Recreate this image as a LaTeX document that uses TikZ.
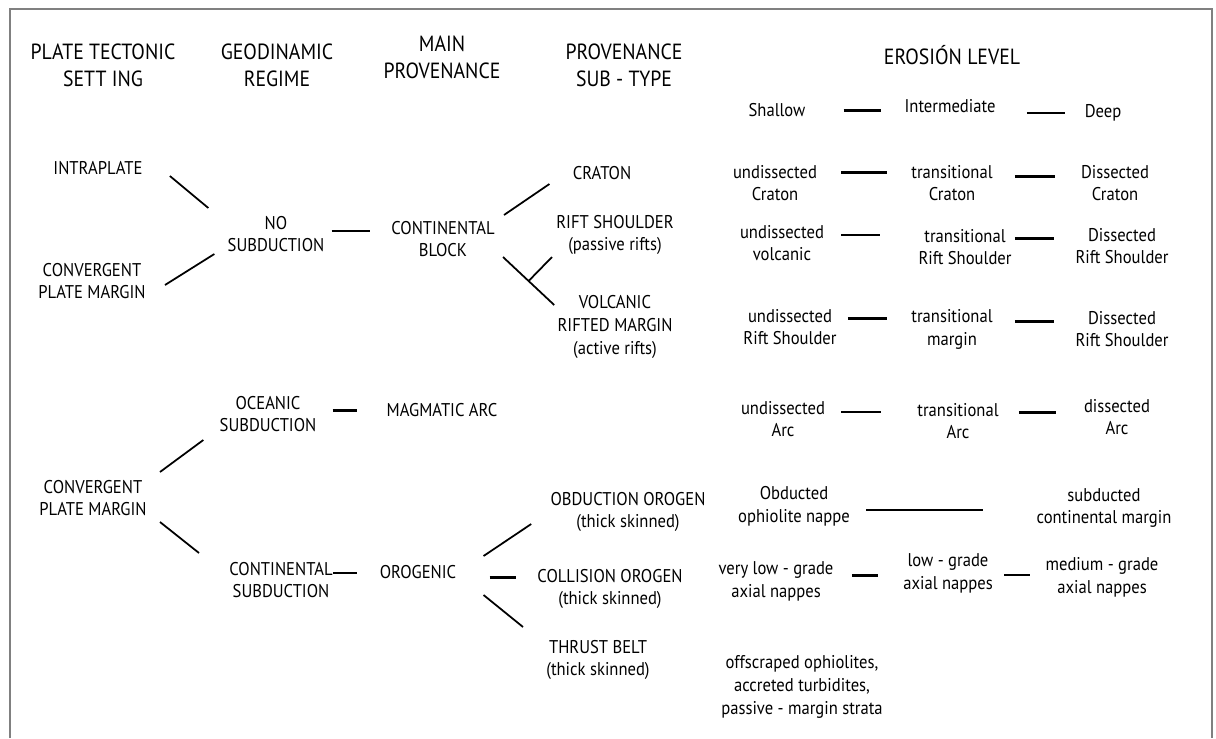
\documentclass[tikz,border=0pt]{standalone}
\usepackage{fontspec}
\setmainfont{PT Sans}[FakeStretch=0.9]

\begin{document}
\begin{tikzpicture}[x=0.02cm,y=-0.02cm,
						head/.style={align=center,inner sep=0pt,font=\fontsize{12.5}{15.3}\selectfont},
						txt/.style={align=center,inner sep=0pt,font=\fontsize{10.5}{13}\selectfont},
						link/.style={line width=1pt},
						heavy/.style={line width=1.7pt}]
		\useasboundingbox[fill=white] (0,0) rectangle (1216,738);
		\draw[gray,line width=1.2pt] (10,738) -- (10,9) -- (1212,9) -- (1212,738);

		% column titles
		\node[head]	(h1)	at (103,65)		{PLATE TECTONIC\\SETT ING};
		\node[head]	(h2)	at (277,65)		{GEODINAMIC\\REGIME};
		\node[head]	(h3)	at (442,57)		{MAIN\\PROVENANCE};
		\node[head]	(h4)	at (624,65)		{PROVENANCE\\SUB - TYPE};
		\node[head]	(h5)	at (952,55)		{EROSIÓN LEVEL};

		% no subduction branch
		\node[txt]	(intra)		at (98,168)		{INTRAPLATE};
		\node[txt]	(conva)		at (92,281)		{CONVERGENT\\PLATE MARGIN};
		\node[txt]	(nosub)		at (276,234)	{NO\\SUBDUCTION};
		\node[txt]	(contb)		at (443,239)	{CONTINENTAL\\BLOCK};
		\node[txt]	(craton)	at (602,173)	{CRATON};
		\node[txt]	(rift)		at (615,235)	{RIFT SHOULDER\\(passive rifts)};
		\node[txt]	(volc)		at (615,327)	{VOLCANIC\\RIFTED MARGIN\\(active rifts)};

		% convergent branch
		\node[txt]	(convb)		at (93,498)		{CONVERGENT\\PLATE MARGIN};
		\node[txt]	(oceanic)	at (268,414)	{OCEANIC\\SUBDUCTION};
		\node[txt]	(contsub)	at (281,580)	{CONTINENTAL\\SUBDUCTION};
		\node[txt]	(magarc)	at (442,410)	{MAGMATIC ARC};
		\node[txt]	(orog)		at (418,572)	{OROGENIC};
		\node[txt]	(obd)		at (628,512)	{OBDUCTION OROGEN\\(thick skinned)};
		\node[txt]	(col)		at (610,589)	{COLLISION OROGEN\\(thick skinned)};
		\node[txt]	(thr)		at (598,660)	{THRUST BELT\\(thick skinned)};

		% erosion level
		\node[txt]	(shallow)	at (777,110)	{Shallow};
		\node[txt]	(inter)		at (950,106)	{Intermediate};
		\node[txt]	(deep)		at (1103,113)	{Deep};
		\node[txt]	(ucra)		at (775,183)	{undissected\\Craton};
		\node[txt]	(tcra)		at (952,183)	{transitional\\Craton};
		\node[txt]	(dcra)		at (1115,183)	{Dissected\\Craton};
		\node[txt]	(uvol)		at (782,243)	{undissected\\volcanic};
		\node[txt]	(trif)		at (965,247)	{transitional\\Rift Shoulder};
		\node[txt]	(drif)		at (1122,246)	{Dissected\\Rift Shoulder};
		\node[txt]	(urif)		at (790,327)	{undissected\\Rift Shoulder};
		\node[txt]	(tmar)		at (952,329)	{transitional\\margin};
		\node[txt]	(dmar)		at (1122,329)	{Dissected\\Rift Shoulder};
		\node[txt]	(uarc)		at (783,419)	{undissected\\Arc};
		\node[txt]	(tarc)		at (958,421)	{transitional\\Arc};
		\node[txt]	(darc)		at (1117,417)	{dissected\\Arc};
		\node[txt]	(obdn)		at (794,506)	{Obducted\\ophiolite nappe};
		\node[txt]	(subd)		at (1104,508)	{subducted\\continental margin};
		\node[txt]	(vlow)		at (776,581)	{very low - grade\\axial nappes};
		\node[txt]	(low)		at (948,573)	{low - grade\\axial nappes};
		\node[txt]	(med)		at (1102,577)	{medium - grade\\axial nappes};
		\node[txt]	(offs)		at (802,687)	{offscraped ophiolites,\\accreted turbidites,\\passive - margin strata};

		\draw[link] ([shift={(27,8)}]intra.east) -- ([shift={(-19,-26)}]nosub.west);
		\draw[link] ([shift={(19,4)}]conva.east) -- ([shift={(-13,20)}]nosub.west);
		\draw[link] ([shift={(7,-3)}]nosub.east) -- ([shift={(-21,-8)}]contb.west);
		\draw[link] ([shift={(9,-24)}]contb.east) -- ([shift={(-23,11)}]craton.west);
		\draw[link] ([shift={(8,18)}]contb.east) -- coordinate[pos=0.5] (fork) ([shift={(-3,-22)}]volc.west);
		\draw[link] (fork) -- ([shift={(-4,22)}]rift.west);

		\draw[link] ([shift={(13,-26)}]convb.east) -- ([shift={(-16,26)}]oceanic.west);
		\draw[link] ([shift={(13,24)}]convb.east) -- ([shift={(-30,-27)}]contsub.west);
		\draw[heavy] ([shift={(16,-4)}]oceanic.east) -- ([shift={(-29,0)}]magarc.west);
		\draw[link] ([shift={(0,-7)}]contsub.east) -- ([shift={(-22,1)}]orog.west);
		\draw[link] ([shift={(27,-16)}]orog.east) -- ([shift={(-19,12)}]obd.west);
		\draw[heavy] ([shift={(33,5)}]orog.east) -- ([shift={(-21,-12)}]col.west);
		\draw[link] ([shift={(27,23)}]orog.east) -- ([shift={(-23,-33)}]thr.west);

		\draw[heavy] ([shift={(38,0)}]shallow.east) -- ([shift={(-23,4)}]inter.west);
		\draw[link] ([shift={(31,7)}]inter.east) -- ([shift={(-19,0)}]deep.west);
		\draw[heavy] ([shift={(24,-11)}]ucra.east) -- ([shift={(-24,-11)}]tcra.west);
		\draw[heavy] ([shift={(22,-7)}]tcra.east) -- ([shift={(-26,-7)}]dcra.west);
		\draw[link] ([shift={(17,-8)}]uvol.east) -- ([shift={(-38,-12)}]trif.west);
		\draw[heavy] ([shift={(3,-9)}]trif.east) -- ([shift={(-21,-8)}]drif.west);
		\draw[heavy] ([shift={(11,-9)}]urif.east) -- ([shift={(-24,-11)}]tmar.west);
		\draw[heavy] ([shift={(22,-8)}]tmar.east) -- ([shift={(-21,-8)}]dmar.west);
		\draw[link] ([shift={(16,-7)}]uarc.east) -- ([shift={(-36,-9)}]tarc.west);
		\draw[heavy] ([shift={(20,-9)}]tarc.east) -- ([shift={(-28,-5)}]darc.west);
		\draw[link] ([shift={(16,4)}]obdn.east) -- ([shift={(-53,2)}]subd.west);
		\draw[heavy] ([shift={(18,-6)}]vlow.east) -- ([shift={(-25,2)}]low.west);
		\draw[link] ([shift={(11,2)}]low.east) -- ([shift={(-15,-2)}]med.west);
	\end{tikzpicture}
\end{document}
